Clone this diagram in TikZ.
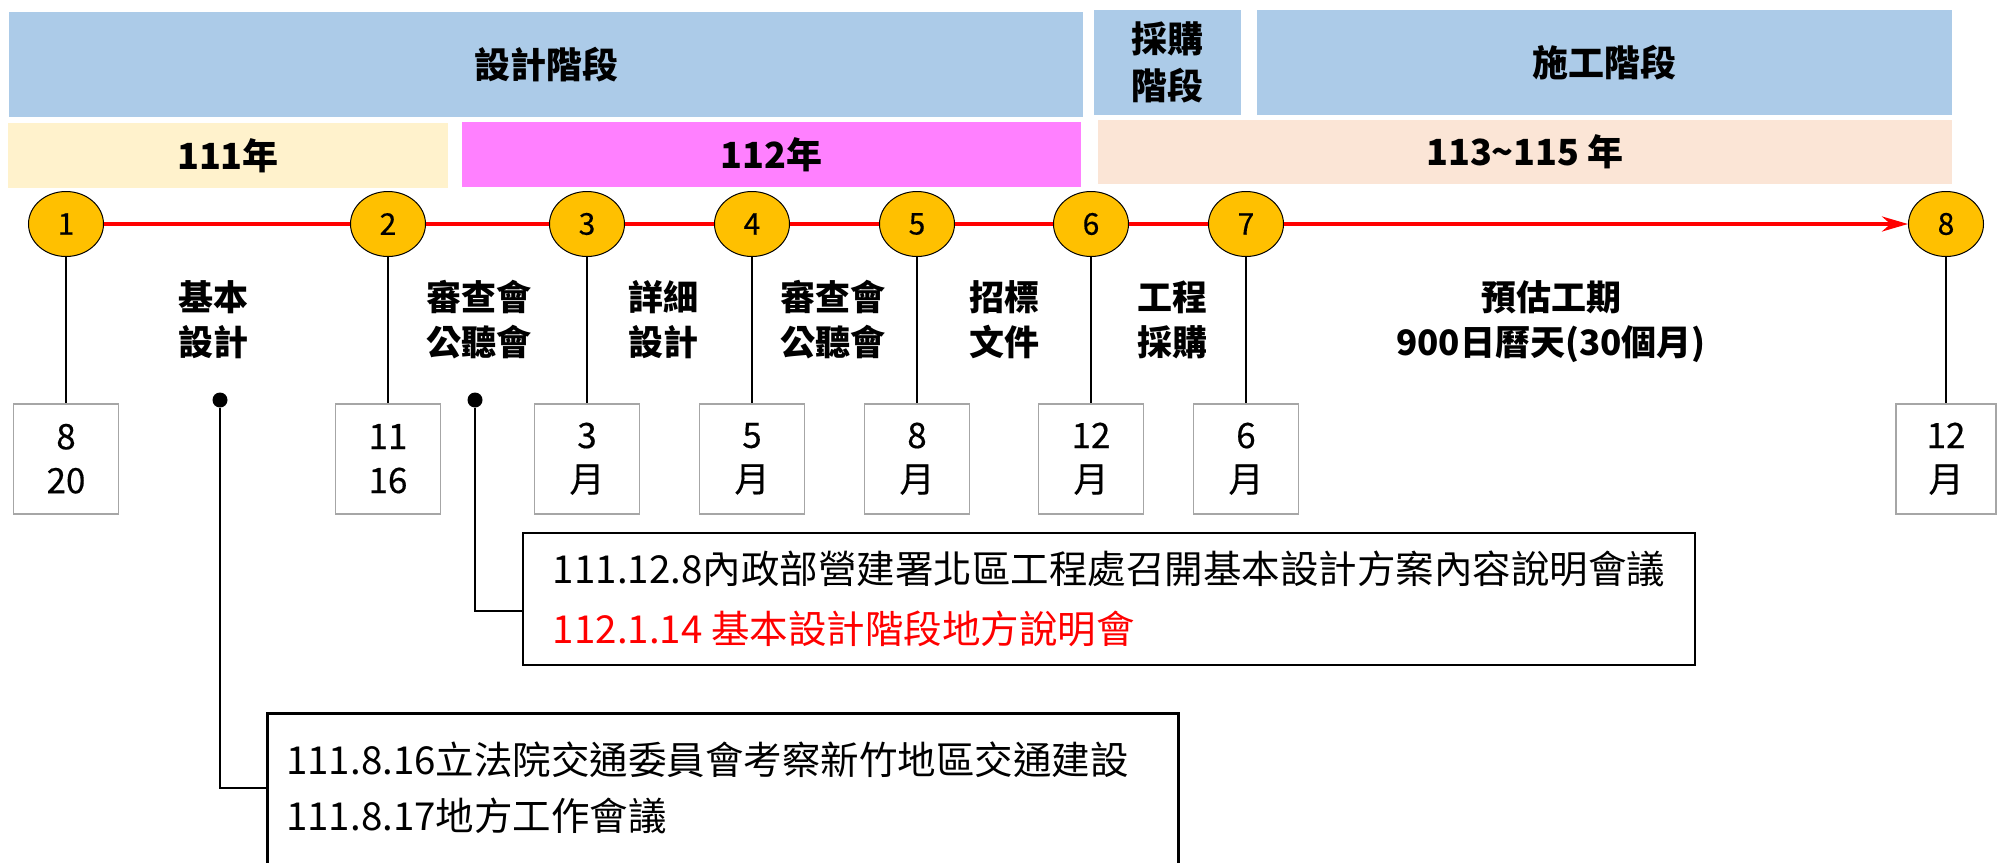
\documentclass[tikz,border=0pt]{standalone}
\usepackage{fontspec}
\setmainfont{Noto Sans CJK TC}
\newfontfamily\numfont[FakeBold=0.4]{Noto Sans CJK TC}
\usepackage{xcolor}
\usepackage{tikz}
\usetikzlibrary{positioning, shapes.geometric, arrows.meta}

\definecolor{phaseblue}{RGB}{172,203,232}
\definecolor{yearone}{RGB}{255,242,204}
\definecolor{yeartwo}{RGB}{255,128,255}
\definecolor{yearthree}{RGB}{251,229,214}
\definecolor{mileorange}{RGB}{255,192,0}
\definecolor{boxgray}{RGB}{166,166,166}

\begin{document}
\begin{tikzpicture}[x=1pt, y=-1pt, node distance=146pt, >={Stealth[length=26pt, width=15pt]},
    phase/.style={fill=phaseblue, inner sep=0pt, align=center, minimum height=105pt, font=\fontsize{36}{47}\selectfont\bfseries},
    year/.style={inner sep=0pt, minimum height=65pt, font=\fontsize{36}{45}\selectfont\bfseries},
    milestone/.style={draw, ellipse, fill=mileorange, line width=1pt, minimum width=75pt, minimum height=65pt, inner sep=0pt, font=\numfont\fontsize{30}{30}\selectfont},
    datebox/.style={draw=boxgray, line width=1.5pt, minimum width=105pt, minimum height=110pt, inner sep=0pt, align=center, font=\numfont\fontsize{35}{44}\selectfont},
    stage/.style={align=center, inner sep=0pt, font=\fontsize{35}{45}\selectfont\bfseries},
    dot/.style={circle, fill, inner sep=0pt, minimum size=15pt},
    callout/.style={draw, line width=2.5pt, inner sep=0pt, align=left, font=\fontsize{38.5}{60}\selectfont},
    link/.style={line width=2.3pt}]

        \useasboundingbox (0,0) rectangle (1997,862);

        % Define the phase bars and the year bars
        \node[phase, minimum width=1074pt] (design) at (546,64.5) {設計階段};
        \node[phase, minimum width=147pt] (procure) at (1167.5,62.5) {採購\\階段};
        \node[phase, minimum width=695pt] (build) at (1604.5,62.5) {施工階段};

        \node[year, fill=yearone, minimum width=440pt] (y111) at (228,155.5) {111年};
        \node[year, fill=yeartwo, minimum width=619pt] (y112) at (771.5,154.5) {112年};
        \node[year, fill=yearthree, minimum width=854pt, minimum height=64pt] (y113) at (1525,152) {113\textasciitilde115 年};

        % Milestones on the time line
        \node[milestone] (m1) at (66,224) {1};
        \node[milestone] (m2) at (388,224) {2};
        \node[milestone] (m3) at (587,224) {3};
        \node[milestone] (m4) at (752,224) {4};
        \node[milestone] (m5) at (917,224) {5};
        \node[milestone] (m6) at (1091,224) {6};
        \node[milestone] (m7) at (1246,224) {7};
        \node[milestone] (m8) at (1946,224) {8};

        \draw[red, line width=3.5pt] (m1) -- (m2) (m2) -- (m3) (m3) -- (m4) (m4) -- (m5) (m5) -- (m6) (m6) -- (m7);
        \draw[->, red, line width=3.5pt] (m7) -- (m8);

        % Dates below each milestone
        \node[datebox, below=of m1] (d1) {8\\20};
        \node[datebox, below=of m2] (d2) {11\\16};
        \node[datebox, below=of m3] (d3) {3\\月};
        \node[datebox, below=of m4] (d4) {5\\月};
        \node[datebox, below=of m5] (d5) {8\\月};
        \node[datebox, below=of m6] (d6) {12\\月};
        \node[datebox, below=of m7] (d7) {6\\月};
        \node[datebox, below=of m8, minimum width=100pt] (d8) {12\\月};

        \draw[link] (m1) -- (d1);
        \draw[link] (m2) -- (d2);
        \draw[link] (m3) -- (d3);
        \draw[link] (m4) -- (d4);
        \draw[link] (m5) -- (d5);
        \draw[link] (m6) -- (d6);
        \draw[link] (m7) -- (d7);
        \draw[link] (m8) -- (d8);

        % Work between the milestones
        \node[stage] (basic) at (213,320) {基本\\設計};
        \node[stage] (review) at (479,320) {審查會\\公聽會};
        \node[stage] (detail) at (663,320) {詳細\\設計};
        \node[stage] (hearing) at (833,320) {審查會\\公聽會};
        \node[stage] (tender) at (1004,320) {招標\\文件};
        \node[stage] (contract) at (1172,320) {工程\\採購};
        \node[stage] (works) at (1551,322) {預估工期\\900日曆天(30個月)};

        % Meetings held during the design phase
        \node[dot] (dot1) at (220,400) {};
        \node[dot] (dot2) at (475,400) {};

        \node[callout, minimum width=1172pt, minimum height=132pt] (meet) at (1109,599) {111.12.8內政部營建署北區工程處召開基本設計方案內容說明會議\\\textcolor{red}{112.1.14 基本設計階段地方說明會}};
        \draw[link] (dot2) |- ([yshift=-12pt]meet.west);

        \node[draw, line width=2.5pt, minimum width=911pt, minimum height=180pt, anchor=north west] (visitbox) at (266,712) {};
        \node[align=left, inner sep=0pt, font=\fontsize{38.5}{56}\selectfont, anchor=west] (visit) at (286,788) {111.8.16立法院交通委員會考察新竹地區交通建設\\111.8.17地方工作會議};
        \draw[link] (dot1) |- (visitbox.west |- visit.west);
    \end{tikzpicture}
\end{document}
